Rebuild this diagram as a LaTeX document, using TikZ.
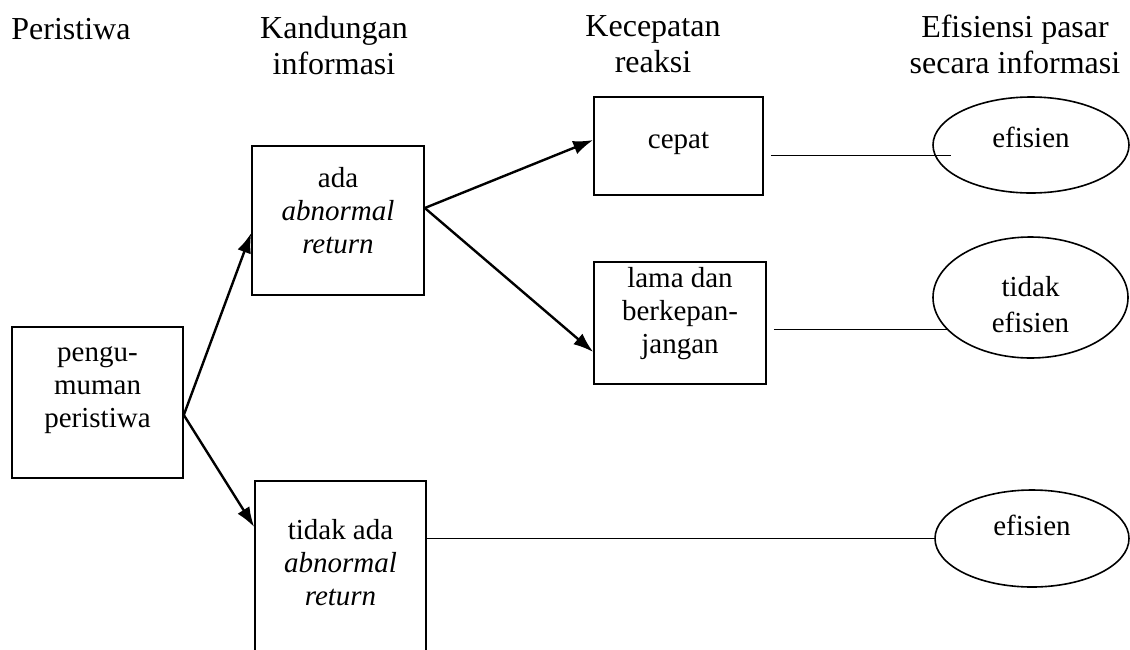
\documentclass[tikz,border=0pt]{standalone}
\usepackage{fontspec}
\setmainfont{Liberation Serif}
\usetikzlibrary{arrows.meta, shapes.geometric}

\begin{document}
\begin{tikzpicture}[x=0.5pt, y=-0.5pt, >={Latex[length=10pt, width=7pt]},
    head/.style={align=center, inner sep=0pt, font=\fontsize{16}{17.75}\selectfont},
    box/.style={draw, line width=0.8pt, align=center, inner sep=0pt, font=\fontsize{14.5}{16.5}\selectfont},
    oval/.style={draw, ellipse, line width=0.8pt, align=center, inner sep=0pt, font=\fontsize{14.5}{18}\selectfont},
    arr/.style={->, line width=1.2pt},
    link/.style={line width=0.5pt}]

    \clip (0,0) rectangle (1130,649);

    \node[head, anchor=base west] (h1) at (11,39) {Peristiwa};
    \node[head, anchor=base] (h2) at (334,74) {Kandungan\\informasi};
    \node[head, anchor=base] (h3) at (653,72) {Kecepatan\\reaksi};
    \node[head, anchor=base] (h4) at (1015,73) {Efisiensi pasar\\secara informasi};

    \node[box, minimum width=85.5pt, text height=50pt, text depth=25.5pt] (ev) at (97.5,402.5) {pengu-\\muman\\peristiwa};
    \node[box, minimum width=86pt, text height=53.5pt, text depth=21pt] (ada) at (338,220.5) {ada\\\textit{abnormal}\\\textit{return}};
    \node[box, minimum width=85.5pt, text height=62pt, text depth=27.5pt] (tidakada) at (340.5,570.5) {tidak ada\\\textit{abnormal}\\\textit{return}};
    \node[box, minimum width=84.5pt, text height=25.5pt, text depth=23.5pt] (cepat) at (678.5,146) {cepat};
    \node[box, minimum width=86pt, text height=45.5pt, text depth=15.5pt] (lama) at (680,323) {lama dan\\berkepan-\\jangan};

    \node[oval, minimum width=98pt, minimum height=48pt, text depth=8pt] (e1) at (1031,145) {efisien};
    \node[oval, minimum width=97.5pt, minimum height=60.5pt, text height=35pt] (e2) at (1030.5,297.5) {tidak\\efisien};
    \node[oval, minimum width=97pt, minimum height=48.5pt, text depth=12.9pt] (e3) at (1032,538.5) {efisien};

    \coordinate (evout) at ([shift={(0,12.5)}]ev.east);
    \coordinate (adaout) at ([shift={(0,-12.5)}]ada.east);

    \draw[arr] (evout) -- ([shift={(0,12.5)}]ada.west);
    \draw[arr] (evout) -- ([shift={(0,-43.5)}]tidakada.west);
    \draw[arr] (adaout) -- ([shift={(0,-6)}]cepat.west);
    \draw[arr] (adaout) -- ([shift={(0,29)}]lama.west);

    \draw[link] ([shift={(7,9)}]cepat.east) -- ([shift={(19,10)}]e1.west);
    \draw[link] ([shift={(7,6)}]lama.east) -- ([shift={(14.5,31.5)}]e2.west);
    \draw[link] (tidakada.east |- e3.west) -- (e3.west);

\end{tikzpicture}
\end{document}
